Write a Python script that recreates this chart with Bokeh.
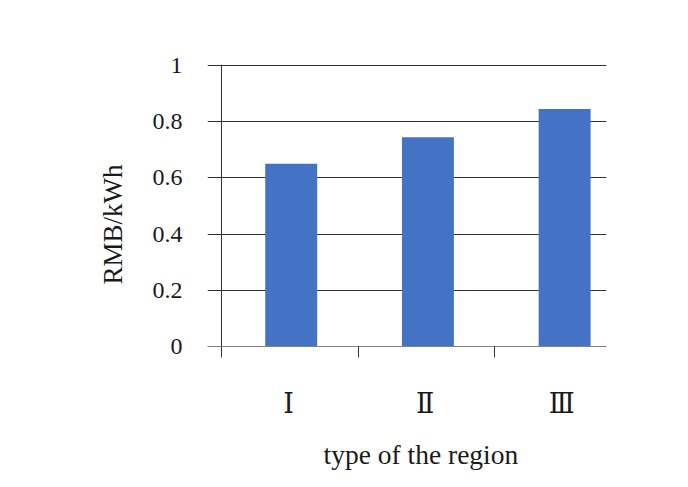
from bokeh.plotting import figure
from bokeh.models import Range1d, FixedTicker, NumeralTickFormatter, Span, Title, ColumnDataSource
from bokeh.embed import file_html
from bokeh.resources import INLINE

categories = ["Ⅰ", "Ⅱ", "Ⅲ"]
values = [0.65, 0.745, 0.845]
y_ticks = [0, 0.2, 0.4, 0.6, 0.8, 1]
x_title = "type of the region"
y_title = "RMB/kWh"

FONT = "Liberation Serif"
TXT = "#1a1a1a"

idx = list(range(len(categories)))
centers = [i + 0.51 for i in idx]
src = ColumnDataSource(dict(x=centers, top=values, cat=categories))

p = figure(width=680, height=487, output_backend="svg", toolbar_location=None,
           x_range=Range1d(-0.1024, 2.8164), y_range=Range1d(0, 1.0036),
           min_border_left=207, min_border_right=74, min_border_top=64, min_border_bottom=141)
p.outline_line_color = None
p.background_fill_color = "white"
p.border_fill_color = "white"

p.vbar(x="x", top="top", width=0.38, bottom=0, source=src, color="#4472C4", line_color=None)

# y axis
p.yaxis.ticker = FixedTicker(ticks=y_ticks)
p.yaxis.formatter = NumeralTickFormatter(format="0.[0]")
p.yaxis.axis_line_color = None
p.yaxis.major_tick_line_color = None
p.yaxis.minor_tick_line_color = None
p.yaxis.major_tick_out = 0
p.yaxis.major_tick_in = 0
p.yaxis.major_label_standoff = 25
p.yaxis.major_label_text_font = FONT
p.yaxis.major_label_text_font_size = "24px"
p.yaxis.major_label_text_color = TXT

p.ygrid.ticker = FixedTicker(ticks=y_ticks)
p.ygrid.grid_line_color = "#333333"
p.ygrid.grid_line_width = 1
p.xgrid.grid_line_color = None

# x axis: labels at centres, ticks at category boundaries
p.xaxis.ticker = FixedTicker(ticks=[i + 0.49 for i in idx], minor_ticks=idx)
p.xaxis.major_label_overrides = {i + 0.49: c for i, c in zip(idx, categories)}
p.xaxis.axis_line_color = "#808080"
p.xaxis.major_tick_line_color = None
p.xaxis.minor_tick_line_color = "#333333"
p.xaxis.minor_tick_out = 11
p.xaxis.minor_tick_in = 0
p.xaxis.major_tick_out = 0
p.xaxis.major_tick_in = 0
p.xaxis.major_label_standoff = 30
p.xaxis.major_label_text_font = "DejaVu Serif"
p.xaxis.major_label_text_font_size = "27px"
p.xaxis.major_label_text_color = TXT

p.add_layout(Span(location=0, dimension="height", line_color="#333333", line_width=1))

p.add_layout(Title(text=x_title, align="left", offset=116, standoff=31,
                   text_font=FONT, text_font_size="27.5px", text_font_style="normal",
                   text_color=TXT), "below")
p.add_layout(Title(text=y_title, align="left", offset=62, standoff=44,
                   text_font=FONT, text_font_size="27px", text_font_style="normal",
                   text_color=TXT), "left")

open("out.html", "w").write(file_html(p, INLINE))
